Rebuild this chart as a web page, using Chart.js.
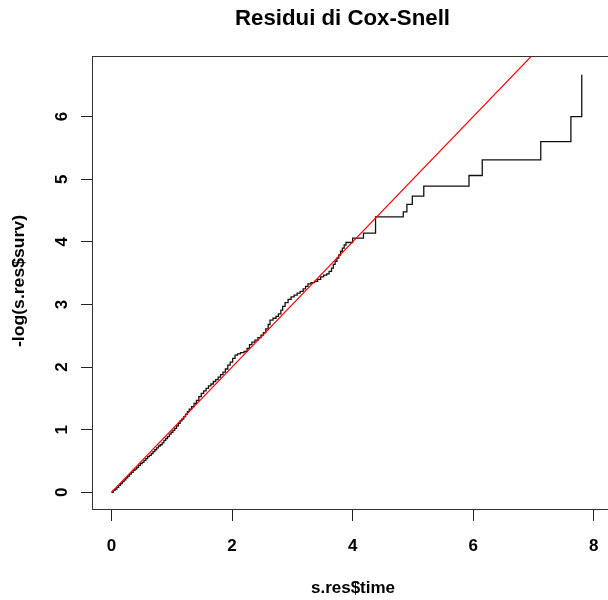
<!DOCTYPE html>
<html><head><meta charset="utf-8">
<script src="https://cdn.jsdelivr.net/npm/chart.js@4.4.1/dist/chart.umd.min.js"></script>
<style>
html,body{margin:0;padding:0;overflow:hidden;background:#fff;width:608px;height:600px}
#wrap{width:640px;height:600px;position:relative}
</style>
</head><body><div id="wrap"><canvas id="c" width="640" height="600"></canvas></div>
<script>
const chartTitle = "Residui di Cox-Snell";
const xAxisTitle = "s.res$time";
const yAxisTitle = "-log(s.res$surv)";
const xTicks = [0, 2, 4, 6, 8];
const yTicks = [0, 1, 2, 3, 4, 5, 6];

const residTime = [
  0.00,0.03,0.06,0.09,0.12,0.15,0.18,0.21,0.24,0.27,0.30,0.33,0.36,0.39,0.42,0.45,0.48,0.51,0.54,0.57,
  0.60,0.63,0.66,0.69,0.72,0.75,0.78,0.81,0.84,0.87,0.90,0.93,0.96,0.99,1.02,1.05,1.08,1.11,1.14,1.17,
  1.20,1.23,1.26,1.29,1.33,1.37,1.41,1.45,1.49,1.53,1.57,1.61,1.65,1.69,1.73,1.77,1.81,1.85,1.89,1.93,
  1.97,2.01,2.05,2.09,2.14,2.20,2.25,2.29,2.33,2.38,2.43,2.48,2.52,2.56,2.60,2.63,2.68,2.73,2.77,2.81,
  2.84,2.88,2.93,2.98,3.03,3.08,3.13,3.18,3.22,3.26,3.31,3.37,3.42,3.47,3.52,3.57,3.61,3.65,3.68,3.71,
  3.74,3.77,3.80,3.83,3.86,3.89,4.00,4.18,4.38,4.84,4.90,4.99,5.18,5.93,6.15,7.12,7.62,7.80];
const residCumHaz = [
  0.00,0.03,0.05,0.08,0.11,0.14,0.17,0.20,0.23,0.26,0.29,0.32,0.35,0.37,0.40,0.43,0.46,0.48,0.51,0.54,
  0.57,0.59,0.62,0.65,0.68,0.71,0.74,0.76,0.79,0.83,0.86,0.89,0.93,0.96,0.99,1.02,1.06,1.10,1.14,1.17,
  1.21,1.25,1.29,1.33,1.37,1.42,1.47,1.53,1.58,1.62,1.66,1.70,1.73,1.77,1.80,1.84,1.88,1.92,1.97,2.03,
  2.08,2.14,2.19,2.21,2.23,2.25,2.30,2.36,2.40,2.43,2.47,2.51,2.55,2.61,2.68,2.75,2.78,2.81,2.85,2.91,
  2.97,3.03,3.08,3.12,3.15,3.18,3.21,3.25,3.29,3.33,3.35,3.37,3.40,3.44,3.47,3.49,3.53,3.58,3.64,3.69,
  3.74,3.79,3.85,3.90,3.95,3.99,4.06,4.14,4.40,4.48,4.60,4.73,4.89,5.06,5.31,5.60,6.00,6.67];

const refLineX = [0, 9];
const refLineY = [0, 9];

function drawText(ctx, text, x, y, font, targetWidth, rotate) {
  ctx.save();
  ctx.font = font;
  ctx.fillStyle = '#000';
  ctx.textAlign = 'center';
  ctx.textBaseline = 'middle';
  const w = ctx.measureText(text).width;
  const sx = targetWidth ? targetWidth / w : 1;
  ctx.translate(x, y);
  if (rotate) ctx.rotate(-Math.PI / 2);
  ctx.scale(sx, 1);
  ctx.fillText(text, 0, 0);
  ctx.restore();
}

const textPlugin = {
  id: 'rtext',
  afterDraw(chart) {
    const ctx = chart.ctx;
    const a = chart.chartArea;
    ctx.save();
    ctx.strokeStyle = '#333';
    ctx.lineWidth = 1;
    ctx.strokeRect(a.left + 0.5, a.top - 0.5, a.right - a.left, a.bottom - a.top + 1);
    ctx.restore();
    const xs = chart.scales.x, ys = chart.scales.y;
    xs.ticks.forEach(t => {
      drawText(ctx, String(t.value), xs.getPixelForValue(t.value), 546, 'bold 17px "Liberation Sans", Arial, sans-serif');
    });
    ys.ticks.forEach(t => {
      drawText(ctx, String(t.value), 62, ys.getPixelForValue(t.value), 'bold 17px "Liberation Sans", Arial, sans-serif', null, true);
    });
    drawText(ctx, chartTitle, 342.5, 18.5, 'bold 22px "Liberation Sans", Arial, sans-serif', 215);
    drawText(ctx, xAxisTitle, 353, 589, 'bold 16px "Liberation Sans", Arial, sans-serif', 84);
    drawText(ctx, yAxisTitle, 20, 281, 'bold 16px "Liberation Sans", Arial, sans-serif', 132, true);
  }
};

new Chart(document.getElementById('c'), {
  type: 'line',
  data: {
    datasets: [
      {
        label: 'ref',
        data: refLineX.map((v, i) => ({ x: v, y: refLineY[i] })),
        borderColor: '#ff0000',
        borderWidth: 1.2,
        pointRadius: 0,
        tension: 0,
        order: 0
      },
      {
        label: 'cumhaz',
        data: residTime.map((t, i) => ({ x: t, y: residCumHaz[i] })),
        borderColor: '#111',
        borderWidth: 1.3,
        pointRadius: 0,
        stepped: 'before',
        order: 1
      }
    ]
  },
  options: {
    responsive: false,
    devicePixelRatio: 1,
    animation: false,
    layout: { padding: { top: 57, right: 10, left: 0, bottom: 0 } },
    plugins: { legend: { display: false }, tooltip: { enabled: false }, title: { display: false } },
    scales: {
      x: {
        type: 'linear',
        min: -0.322,
        max: 8.6,
        afterBuildTicks: s => { s.ticks = xTicks.map(v => ({ value: v })); },
        afterFit: s => { s.height = 91; },
        ticks: { display: false },
        grid: { display: true, drawOnChartArea: false, drawTicks: true, tickLength: 12, color: '#222', lineWidth: 1 },
        border: { display: false }
      },
      y: {
        type: 'linear',
        min: -0.266,
        max: 6.952,
        afterBuildTicks: s => { s.ticks = yTicks.map(v => ({ value: v })); },
        afterFit: s => { s.width = 92; },
        ticks: { display: false },
        grid: { display: true, drawOnChartArea: false, drawTicks: true, tickLength: 11, color: '#222', lineWidth: 1 },
        border: { display: false }
      }
    }
  },
  plugins: [textPlugin]
});
</script>
</body></html>
